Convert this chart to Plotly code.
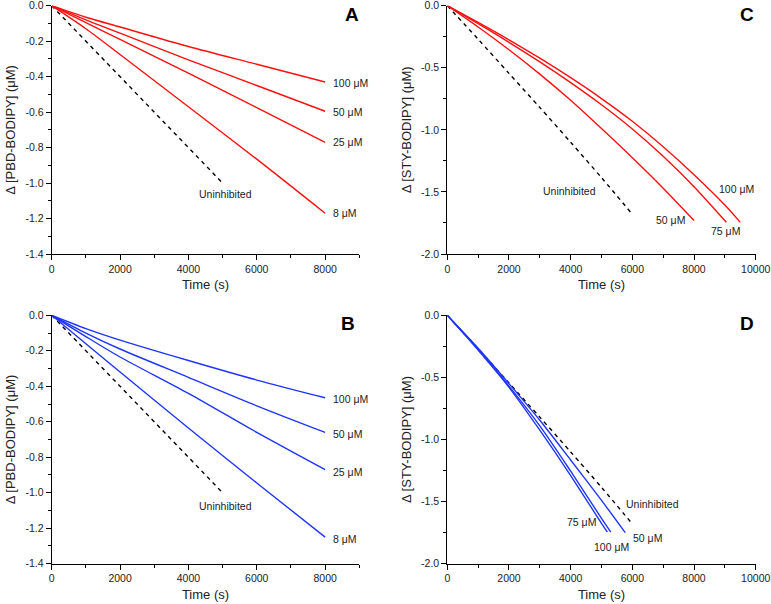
import plotly.graph_objects as go

# ---------------- data ----------------
# Panel A (PBD-BODIPY, red)
a_time = [0, 1000, 2000, 4000, 6000, 8000]
a_100 = [0, -0.065, -0.12, -0.23, -0.33, -0.43]
a_50 = [0, -0.08, -0.155, -0.305, -0.45, -0.595]
a_25 = [0, -0.095, -0.19, -0.38, -0.575, -0.77]
a_8 = [0, -0.13, -0.275, -0.57, -0.865, -1.17]
pbd_uninh_time = [0, 5000]
pbd_uninh = [0, -1.0]

# Panel B (PBD-BODIPY, blue)
b_time = [0, 1000, 2000, 4000, 6000, 8000]
b_100 = [0, -0.075, -0.14, -0.255, -0.365, -0.465]
b_50 = [0, -0.1, -0.19, -0.35, -0.51, -0.66]
b_25 = [0, -0.12, -0.235, -0.44, -0.66, -0.87]
b_8 = [0, -0.16, -0.32, -0.635, -0.945, -1.25]

# Panel C (STY-BODIPY, red)
c50_time = [0, 1000, 2000, 3000, 4000, 5000, 6000, 7000, 8000]
c_50 = [0, -0.172, -0.355, -0.551, -0.762, -0.99, -1.225, -1.47, -1.73]
c75_time = [0, 1000, 2000, 3000, 4000, 5000, 6000, 7000, 8000, 9050]
c_75 = [0, -0.145, -0.295, -0.453, -0.62, -0.798, -0.993, -1.213, -1.458, -1.745]
c100_time = [0, 1000, 2000, 3000, 4000, 5000, 6000, 7000, 8000, 9000, 9500]
c_100 = [0, -0.135, -0.275, -0.423, -0.58, -0.748, -0.931, -1.136, -1.361, -1.606, -1.745]
sty_uninh_time = [0, 1000, 2000, 3000, 4000, 5000, 6000]
sty_uninh = [0, -0.27, -0.545, -0.82, -1.1, -1.385, -1.68]

# Panel D (STY-BODIPY, blue)
d50_time = [0, 1000, 2000, 3000, 4000, 5000, 5770]
d_50 = [0, -0.265, -0.55, -0.845, -1.165, -1.49, -1.75]
d75_time = [0, 1000, 2000, 3000, 4000, 5000, 5190]
d_75 = [0, -0.28, -0.58, -0.925, -1.29, -1.675, -1.745]
d100_time = [0, 1000, 2000, 3000, 4000, 5000, 5300]
d_100 = [0, -0.275, -0.57, -0.89, -1.255, -1.635, -1.745]

# tick labels
pbd_x_ticks = [0, 2000, 4000, 6000, 8000]
pbd_x_labels = ["0", "2000", "4000", "6000", "8000"]
pbd_y_ticks = [0, -0.2, -0.4, -0.6, -0.8, -1.0, -1.2, -1.4]
pbd_y_labels = ["0.0", "-0.2", "-0.4", "-0.6", "-0.8", "-1.0", "-1.2", "-1.4"]
sty_x_ticks = [0, 2000, 4000, 6000, 8000, 10000]
sty_x_labels = ["0", "2000", "4000", "6000", "8000", "10000"]
sty_y_ticks = [0, -0.5, -1.0, -1.5, -2.0]
sty_y_labels = ["0.0", "-0.5", "-1.0", "-1.5", "-2.0"]

RED = "#ff1010"
BLUE = "#1f35ff"
FONT = "Arial, Liberation Sans, sans-serif"

W, H = 771, 604
fig = go.Figure()


def line(x, y, color, ax, dash="solid"):
    xa = "x" if ax == 1 else f"x{ax}"
    ya = "y" if ax == 1 else f"y{ax}"
    fig.add_trace(go.Scatter(x=x, y=y, mode="lines", xaxis=xa, yaxis=ya,
                             line=dict(color=color, width=1.4, dash=dash,
                                       shape="spline", smoothing=0.8),
                             showlegend=False, hoverinfo="skip"))


dash = "4px,4px"
# A -> axis 1
line(pbd_uninh_time, pbd_uninh, "black", 1, dash)
for y in (a_100, a_50, a_25, a_8):
    line(a_time, y, RED, 1)
# C -> axis 2
line(sty_uninh_time, sty_uninh, "black", 2, dash)
line(c50_time, c_50, RED, 2)
line(c75_time, c_75, RED, 2)
line(c100_time, c_100, RED, 2)
# B -> axis 3
line(pbd_uninh_time, pbd_uninh, "black", 3, dash)
for y in (b_100, b_50, b_25, b_8):
    line(b_time, y, BLUE, 3)
# D -> axis 4
line(sty_uninh_time, sty_uninh, "black", 4, dash)
line(d50_time, d_50, BLUE, 4)
line(d75_time, d_75, BLUE, 4)
line(d100_time, d_100, BLUE, 4)


def px_x(a, b):
    return [a / W, b / W]


def px_y(top, bottom):
    return [(H - bottom) / H, (H - top) / H]


left_dom = px_x(51.7, 359.3)
right_dom = px_x(447.3, 755.7)
top_dom = px_y(5.7, 254)
bot_dom = px_y(315.3, 563.7)

tickfont = dict(family=FONT, size=10.5, color="#222")
titlefont = dict(family=FONT, size=13, color="#222")


def xaxis(dom, anchor, rng, tv, tt, minor_dt):
    return dict(domain=dom, anchor=anchor, range=rng, showline=True, linecolor="black",
                linewidth=1, mirror=False, showgrid=False, zeroline=False, automargin=False,
                ticks="outside", ticklen=5, tickwidth=1, tickcolor="black",
                ticklabeloverflow="allow",
                tickmode="array", tickvals=tv, ticktext=tt, tickfont=tickfont,
                minor=dict(tickmode="linear", tick0=0, dtick=minor_dt, ticks="outside",
                           ticklen=3, tickcolor="black", showgrid=False),
                title=dict(text="Time (s)", font=titlefont, standoff=6))


def yaxis(dom, anchor, rng, tv, tt, minor_dt, title):
    return dict(domain=dom, anchor=anchor, range=rng, showline=True, linecolor="black",
                linewidth=1, mirror=False, showgrid=False, zeroline=False, automargin=False,
                ticks="outside", ticklen=5, tickwidth=1, tickcolor="black",
                ticklabeloverflow="allow",
                tickmode="array", tickvals=tv, ticktext=tt, tickfont=tickfont,
                minor=dict(tickmode="linear", tick0=0, dtick=minor_dt, ticks="outside",
                           ticklen=3, tickcolor="black", showgrid=False),
                title=dict(text=title, font=titlefont, standoff=6))


pbd_title = "Δ [PBD-BODIPY] (μM)"
sty_title = "Δ [STY-BODIPY] (μM)"

fig.update_layout(
    width=W, height=H, margin=dict(l=0, r=0, t=0, b=0, autoexpand=False),
    paper_bgcolor="white", plot_bgcolor="white", showlegend=False,
    font=dict(family=FONT, color="#222"),
    xaxis=xaxis(left_dom, "y", [0, 9000], pbd_x_ticks, pbd_x_labels, 1000),
    yaxis=yaxis(top_dom, "x", [-1.4, 0], pbd_y_ticks, pbd_y_labels, 0.1, pbd_title),
    xaxis2=xaxis(right_dom, "y2", [0, 10000], sty_x_ticks, sty_x_labels, 1000),
    yaxis2=yaxis(top_dom, "x2", [-2.0, 0], sty_y_ticks, sty_y_labels, 0.25, sty_title),
    xaxis3=xaxis(left_dom, "y3", [0, 9000], pbd_x_ticks, pbd_x_labels, 1000),
    yaxis3=yaxis(bot_dom, "x3", [-1.4, 0], pbd_y_ticks, pbd_y_labels, 0.1, pbd_title),
    xaxis4=xaxis(right_dom, "y4", [0, 10000], sty_x_ticks, sty_x_labels, 1000),
    yaxis4=yaxis(bot_dom, "x4", [-2.0, 0], sty_y_ticks, sty_y_labels, 0.25, sty_title),
)

lab = dict(family=FONT, size=10.5, color="#222")


def note(ax, x, y, text):
    xr = "x" if ax == 1 else f"x{ax}"
    yr = "y" if ax == 1 else f"y{ax}"
    fig.add_annotation(x=x, y=y, xref=xr, yref=yr, text=text, showarrow=False,
                       xanchor="left", yanchor="middle", font=lab)


# Panel A labels
note(1, 8180, -0.437, "100 μM")
note(1, 8180, -0.601, "50 μM")
note(1, 8180, -0.770, "25 μM")
note(1, 8180, -1.170, "8 μM")
note(1, 4250, -1.062, "Uninhibited")
# Panel C labels
note(2, 3030, -1.493, "Uninhibited")
note(2, 8755, -1.476, "100 μM")
note(2, 6710, -1.726, "50 μM")
note(2, 8490, -1.815, "75 μM")
# Panel B labels
note(3, 8180, -0.473, "100 μM")
note(3, 8180, -0.671, "50 μM")
note(3, 8180, -0.883, "25 μM")
note(3, 8180, -1.263, "8 μM")
note(3, 4260, -1.075, "Uninhibited")
# Panel D labels
note(4, 5720, -1.519, "Uninhibited")
note(4, 3815, -1.667, "75 μM")
note(4, 4700, -1.863, "100 μM")
note(4, 5955, -1.790, "50 μM")

# panel letters
for letter, xp, yp in (("A", 352, 15), ("C", 747, 14), ("B", 348, 323), ("D", 747, 323)):
    fig.add_annotation(x=xp / W, y=(H - yp) / H, xref="paper", yref="paper", text=f"<b>{letter}</b>",
                       showarrow=False, xanchor="center", yanchor="middle",
                       font=dict(family=FONT, size=19, color="black"))

# the page is exactly the figure's size: drop the browser's default body margin
fig.write_html("out.html", config={"displayModeBar": False},
               post_script="document.body.style.margin='0px';document.body.style.overflow='hidden';")
